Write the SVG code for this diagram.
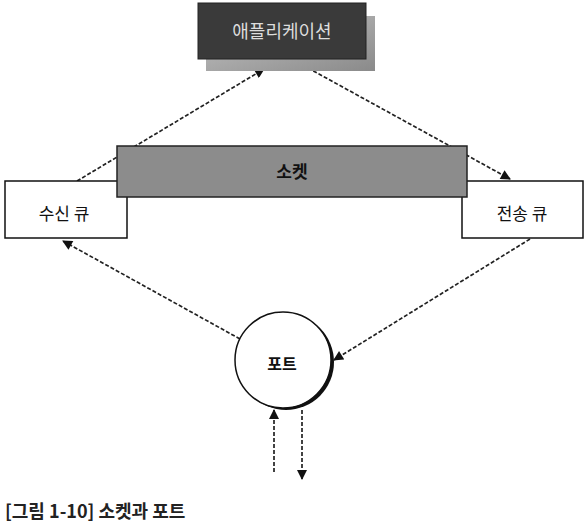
<svg xmlns="http://www.w3.org/2000/svg" width="588" height="526" viewBox="0 0 588 526">
<style>
.t{font-family:"Noto Sans CJK KR","Noto Sans",sans-serif;text-anchor:middle;dominant-baseline:central}
.c{fill:none;stroke:#222;stroke-width:1.7;stroke-dasharray:4 2}
</style>
<defs>
<marker id="ah" viewBox="0 0 10 10" refX="9" refY="5" markerWidth="11" markerHeight="10" markerUnits="userSpaceOnUse" orient="auto">
<path d="M0,0 L10,5 L0,10 Z" fill="#111"/>
</marker>
<linearGradient id="sh" x1="0" y1="0" x2="1" y2="1">
<stop offset="0" stop-color="#c4c4c4"/><stop offset="1" stop-color="#8a8a8a"/>
</linearGradient>
</defs>
<rect width="588" height="526" fill="#fff"/>
<g id="connectors">
<line class="c" x1="77" y1="181" x2="264" y2="69" marker-end="url(#ah)"/>
<line class="c" x1="308" y1="68" x2="510" y2="179" marker-end="url(#ah)"/>
<line class="c" x1="530" y1="239" x2="334" y2="360" marker-end="url(#ah)"/>
<line class="c" x1="240" y1="339" x2="63" y2="241" marker-end="url(#ah)"/>
<line class="c" x1="274" y1="472" x2="274" y2="410" marker-end="url(#ah)"/>
<line class="c" x1="302" y1="410" x2="302" y2="479" marker-end="url(#ah)"/>
</g>
<g id="app">
<rect x="206" y="16" width="169" height="55" fill="url(#sh)"/>
<rect x="198" y="3" width="168" height="56" fill="#3a3a3a" stroke="#222" stroke-width="1"/>
<text class="t" x="282" y="30" font-size="18" fill="#ddd">애플리케이션</text>
</g>
<g id="recv">
<rect x="5" y="181" width="122" height="57" fill="#fff" stroke="#111" stroke-width="1.5"/>
<text class="t" x="64" y="212" font-size="17" fill="#111">수신 큐</text>
</g>
<g id="send">
<rect x="462" y="181" width="121" height="57" fill="#fff" stroke="#111" stroke-width="1.5"/>
<text class="t" x="522" y="212" font-size="17" fill="#111">전송 큐</text>
</g>
<g id="socket">
<rect x="117" y="146" width="350" height="51" fill="#8c8c8c" stroke="#222" stroke-width="1.5"/>
<text class="t" x="292" y="170" font-size="17" font-weight="bold" fill="#111">소켓</text>
</g>
<g id="port">
<circle cx="286" cy="362" r="48" fill="#111"/>
<circle cx="283" cy="360" r="48" fill="#fff" stroke="#111" stroke-width="1.5"/>
<text class="t" x="282" y="363" font-size="16" font-weight="bold" fill="#111">포트</text>
</g>
<text x="5" y="518" font-family="Noto Sans CJK KR,Noto Sans,sans-serif" font-size="18" font-weight="bold" fill="#222">[그림 1-10] 소켓과 포트</text>
</svg>
